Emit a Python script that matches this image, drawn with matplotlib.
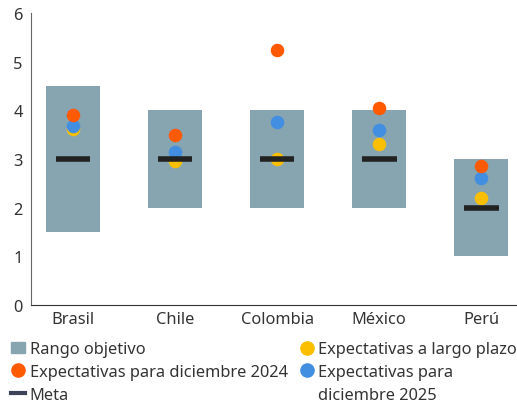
import matplotlib.pyplot as plt
from matplotlib.patches import Patch
from matplotlib.lines import Line2D

plt.rcParams['font.family'] = ['Noto Sans', 'DejaVu Sans']

# data
paises = ["Brasil", "Chile", "Colombia", "México", "Perú"]
rango_min = [1.5, 2.0, 2.0, 2.0, 1.0]
rango_max = [4.5, 4.0, 4.0, 4.0, 3.0]
meta = [3.0, 3.0, 3.0, 3.0, 2.0]
exp_dic_2024 = [3.9, 3.5, 5.25, 4.05, 2.85]
exp_dic_2025 = [3.67, 3.15, 3.77, 3.6, 2.6]
exp_largo = [3.62, 2.96, 3.0, 3.3, 2.2]

c_rango = "#86a5b1"
c_2024 = "#ff5a00"
c_2025 = "#428ee0"
c_largo = "#fbbf00"
c_meta = "#222222"
c_texto = "#333333"

fig = plt.figure(figsize=(5.17, 4.06), dpi=100)
ax = fig.add_axes([0.06, 0.2463, 0.94, 0.7192])

x = range(len(paises))
alto = [b - a for a, b in zip(rango_min, rango_max)]
ax.bar(x, alto, bottom=rango_min, width=0.53, color=c_rango, zorder=1)
ax.scatter(x, exp_largo, s=95, color=c_largo, zorder=2, linewidths=0)
ax.scatter(x, exp_dic_2025, s=95, color=c_2025, zorder=3, linewidths=0)
ax.scatter(x, exp_dic_2024, s=95, color=c_2024, zorder=4, linewidths=0)
for xi, m in zip(x, meta):
    ax.hlines(m, xi - 0.17, xi + 0.17, color=c_meta, linewidth=4, zorder=5)

ax.set_xlim(-0.41, 4.35)
ax.set_ylim(0, 6)
ax.set_xticks(list(x))
ax.set_xticklabels(paises)
ax.set_yticks(range(7))
ax.tick_params(length=0, labelsize=11.8, colors=c_texto, pad=4)
ax.tick_params(axis="y", pad=6)
for s in ["top", "right"]:
    ax.spines[s].set_visible(False)
ax.spines["left"].set_color("#666666")
ax.spines["bottom"].set_color("#333333")

# legend: second column split in two rows so the marker sits on the first line
vacio = Line2D([], [], ls="", marker="")
handles = [
    Patch(color=c_rango),
    Line2D([], [], marker="o", ls="", color=c_2024, markersize=9.5),
    Line2D([], [], color="#3c4257", lw=3),
    Line2D([], [], marker="o", ls="", color=c_largo, markersize=9.5),
    Line2D([], [], marker="o", ls="", color=c_2025, markersize=9.5),
    vacio,
]
labels = ["Rango objetivo", "Expectativas para diciembre 2024", "Meta",
          "Expectativas a largo plazo", "Expectativas para", "diciembre 2025"]
fig.legend(handles, labels, ncol=2, loc="upper left", bbox_to_anchor=(0.022, 0.157),
           frameon=False, fontsize=11.8, handlelength=0.86, handletextpad=0.26,
           columnspacing=0.72, labelspacing=0.42, borderaxespad=0, borderpad=0,
           labelcolor=c_texto)

fig.savefig("out.png", dpi=100)
